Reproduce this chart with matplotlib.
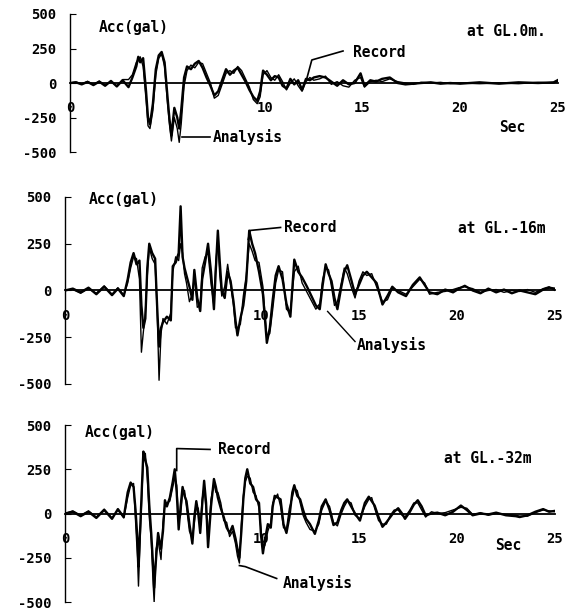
import matplotlib
matplotlib.use("Agg")
import matplotlib.pyplot as plt

plt.rcParams['font.family'] = ['DejaVu Sans Mono']
plt.rcParams['font.weight'] = 'bold'

# ---- GL. 0m ----
t1 = [0, 0.3, 0.6, 0.9, 1.2, 1.5, 1.8, 2.1, 2.4, 2.7,
      3.0, 3.2, 3.4, 3.5, 3.6, 3.75, 3.9, 4.0, 4.1, 4.25,
      4.4, 4.55, 4.7, 4.85, 5.0, 5.1, 5.2, 5.35, 5.5, 5.6,
      5.7, 5.85, 6.0, 6.2, 6.4, 6.6, 6.8, 7.0, 7.2, 7.4,
      7.6, 7.8, 8.0, 8.2, 8.4, 8.6, 8.8, 9.0, 9.2, 9.4,
      9.6, 9.75, 9.9, 10.1, 10.3, 10.5, 10.7, 10.9, 11.1, 11.3,
      11.5, 11.7, 11.9, 12.1, 12.3, 12.5, 12.8, 13.1, 13.4, 13.7,
      14.0, 14.3, 14.6, 14.9, 15.1, 15.4, 15.7, 16.0, 16.4, 16.8,
      17.2, 17.6, 18.0, 18.5, 19.0, 19.5, 20.0, 21.0, 22.0, 23.0,
      24.0, 24.8, 25.0]
rec1 = [0, 5, -10, 8, -15, 10, -20, 15, -25, 20,
        -30, 40, 120, 190, 150, 180, -60, -250, -300, -150,
        100, 200, 225, 150, -100, -260, -380, -180, -250, -330,
        -200, 40, 120, 100, 140, 160, 110, 40, -20, -90,
        -60, 20, 100, 60, 90, 110, 60, 10, -50, -100,
        -130, -60, 90, 60, 20, 50, 40, -20, -40, 30,
        -10, 20, -50, 30, 20, 40, 50, 40, 10, -20,
        20, -10, 0, 70, -20, 20, 10, 30, 40, 0,
        -10, -5, 0, 5, -5, 0, -5, 5, -5, 5,
        0, 5, 20]
ana1 = [0, 8, -6, 12, -10, 14, -16, 10, -20, 25,
        25, 60, 150, 170, 190, 120, -120, -310, -330, -200,
        60, 180, 210, 120, -150, -300, -420, -250, -330, -430,
        -300, -20, 90, 130, 110, 150, 140, 70, 0, -110,
        -90, -10, 70, 90, 70, 120, 90, 30, -30, -120,
        -150, -100, 60, 90, 40, 20, 60, 10, -50, 0,
        30, -20, -60, 10, 40, 20, 30, 50, -10, 10,
        -20, -30, 20, 40, -30, 10, 20, 10, 30, 10,
        0, -10, 5, 0, 5, -5, 0, -5, 0, -5,
        5, 0, 10]

# ---- GL. -16m ----
t2 = [0, 0.4, 0.8, 1.2, 1.6, 2.0, 2.4, 2.7, 3.0, 3.2,
      3.35, 3.5, 3.65, 3.8, 3.9, 4.0, 4.1, 4.2, 4.3, 4.45,
      4.6, 4.7, 4.8, 4.9, 5.0, 5.2, 5.4, 5.5, 5.65, 5.8,
      5.9, 6.0, 6.1, 6.2, 6.35, 6.5, 6.6, 6.75, 6.9, 7.0,
      7.15, 7.3, 7.45, 7.6, 7.7, 7.8, 7.9, 8.0, 8.15, 8.3,
      8.45, 8.6, 8.7, 8.8, 8.95, 9.1, 9.25, 9.4, 9.55, 9.7,
      9.9, 10.1, 10.2, 10.3, 10.45, 10.6, 10.75, 10.9, 11.1, 11.3,
      11.5, 11.7, 11.9, 12.1, 12.35, 12.6, 12.8, 13.0, 13.15, 13.3,
      13.45, 13.6, 13.75, 13.9, 14.1, 14.25, 14.4, 14.6, 14.8, 15.0,
      15.2, 15.4, 15.65, 15.9, 16.2, 16.45, 16.7, 17.0, 17.4, 17.75,
      18.1, 18.35, 18.6, 19.0, 19.4, 19.8, 20.1, 20.4, 20.8, 21.2,
      21.6, 22.0, 22.4, 22.8, 23.2, 23.6, 24.0, 24.4, 24.7, 25.0]
rec2 = [0, 10, -10, 15, -20, 20, -25, 10, -30, 60,
        150, 200, 140, 160, -80, -200, -150, 120, 250, 200,
        170, -80, -300, -200, -170, -140, -160, 130, 150, 200,
        450, 180, 120, 80, 20, -50, 110, -40, -110, 60,
        150, 250, 100, -100, 120, 320, 150, 0, -40, 100,
        50, -60, -160, -240, -150, -80, 50, 320, 250, 200,
        100, -20, -150, -280, -200, -50, 80, 130, 60, -70,
        -140, 165, 100, 70, 20, -35, -80, -100, 30, 140,
        90, 50, -40, -100, 20, 100, 135, 60, -20, 30,
        80, 100, 70, 40, -75, -30, 20, -10, -30, 30,
        70, 30, -10, -20, 5, -10, 10, 25, 0, -15,
        10, -10, 5, -15, 0, -10, -20, 5, 15, 10]
ana2 = [0, 5, -15, 10, -15, 25, -20, 15, -25, 40,
        120, 180, 170, 60, -330, -220, -120, 80, 230, 170,
        140, -100, -480, -230, -150, -180, -120, 100, 180, 160,
        250, 200, 90, 40, -60, -20, 80, -90, -80, 120,
        180, 200, 40, -80, 160, 260, 80, -30, 20, 140,
        30, -80, -200, -200, -180, -30, 80, 250, 210, 160,
        150, 20, -120, -250, -230, -100, 40, 110, 100, -100,
        -120, 100, 130, 40, -10, -60, -100, -70, 60, 120,
        110, 20, -80, -60, 40, 120, 90, 20, -40, 50,
        100, 80, 90, 20, -60, -50, 10, 0, -20, 20,
        60, 40, -20, -10, -5, 5, 15, 20, 10, -10,
        0, 5, -10, 0, -5, 5, -10, 10, 20, 0]

# ---- GL. -32m ----
t3 = [0, 0.4, 0.8, 1.2, 1.6, 2.0, 2.4, 2.7, 3.0, 3.2,
      3.35, 3.5, 3.6, 3.7, 3.75, 3.85, 4.0, 4.1, 4.2, 4.3,
      4.4, 4.5, 4.55, 4.65, 4.75, 4.9, 5.0, 5.1, 5.2, 5.35,
      5.5, 5.6, 5.7, 5.8, 5.9, 6.0, 6.1, 6.2, 6.35, 6.5,
      6.6, 6.7, 6.8, 6.9, 7.0, 7.1, 7.2, 7.3, 7.45, 7.6,
      7.7, 7.8, 7.95, 8.1, 8.25, 8.4, 8.55, 8.7, 8.8, 8.9,
      9.0, 9.1, 9.2, 9.3, 9.45, 9.6, 9.75, 9.9, 10.0, 10.1,
      10.2, 10.35, 10.5, 10.6, 10.7, 10.85, 11.0, 11.15, 11.3, 11.45,
      11.6, 11.7, 11.85, 12.0, 12.15, 12.3, 12.5, 12.75, 12.95, 13.1,
      13.3, 13.5, 13.7, 13.9, 14.1, 14.25, 14.4, 14.6, 14.8, 15.05,
      15.3, 15.5, 15.65, 15.8, 16.0, 16.2, 16.4, 16.6, 16.8, 17.0,
      17.2, 17.35, 17.6, 17.8, 18.0, 18.2, 18.4, 18.7, 19.0, 19.4,
      19.8, 20.2, 20.5, 20.8, 21.2, 21.6, 22.0, 22.5, 23.0, 23.2,
      23.6, 24.0, 24.4, 24.7, 25.0]
rec3 = [0, 10, -15, 10, -25, 20, -30, 25, -20, 120,
        175, 150, 20, -150, -300, -50, 350, 300, 260, 50,
        -110, -300, -420, -250, -110, -200, -100, 75, 40, 90,
        180, 250, 120, -90, 40, 150, 100, 70, -60, -170,
        -20, 70, 0, -110, 50, 185, 60, -190, 40, 195,
        150, 90, 30, -20, -80, -110, -70, -140, -200, -250,
        -100, 80, 200, 250, 170, 150, 80, 60, -120, -225,
        -150, -60, -80, 40, 100, 90, 80, -60, -110, -20,
        120, 160, 100, 80, 20, -30, -60, -115, -40, 40,
        80, 20, -65, -50, 20, 60, 80, 40, 0, -40,
        60, 95, 70, 45, -20, -75, -50, -20, 10, 30,
        0, -30, 10, 50, 75, 40, -10, 0, 5, -10,
        10, 45, 20, -10, 0, -5, 5, -10, -15, -20,
        -10, 10, 25, 10, 15]
ana3 = [0, 15, -10, 15, -20, 25, -25, 20, -25, 90,
        160, 170, -40, -250, -410, -100, 320, 340, 200, -20,
        -150, -400, -500, -200, -150, -260, -50, 50, 60, 70,
        150, 200, 160, -40, -10, 120, 130, 40, -100, -140,
        -50, 40, 30, -80, 80, 150, 20, -160, 80, 170,
        120, 120, 60, -40, -50, -130, -100, -170, -240, -280,
        -60, 100, 180, 210, 200, 120, 100, 30, -90, -200,
        -180, -100, -50, 60, 80, 110, 40, -80, -90, 30,
        90, 140, 130, 60, -10, -50, -90, -100, -60, 20,
        70, 40, -50, -70, 0, 40, 70, 60, -10, -30,
        40, 80, 90, 30, -40, -60, -60, -10, 20, 20,
        -10, -20, 20, 60, 60, 20, -20, 10, 0, 5,
        20, 35, 30, -5, 5, -10, 0, -5, -10, -15,
        -15, 5, 20, 15, 10]

yticks = [-500, -250, 0, 250, 500]
ylabels = ['-500', '-250', '0', '250', '500']
xticks = [0, 10, 15, 20, 25]


def draw_panel(ax, t, rec, ana):
    assert len(t) == len(rec) == len(ana)
    ax.plot(t, ana, color='black', lw=1.0)
    ax.plot(t, rec, color='black', lw=1.7)
    ax.set_xlim(0, 25)
    ax.set_ylim(-500, 500)
    for s in ['top', 'right']:
        ax.spines[s].set_visible(False)
    ax.spines['bottom'].set_position(('data', 0))
    ax.spines['bottom'].set_linewidth(1.3)
    ax.spines['left'].set_linewidth(1.0)
    ax.set_yticks(yticks)
    ax.set_yticklabels(ylabels)
    ax.set_xticks(xticks)
    ax.set_xticklabels([str(x) for x in xticks])
    ax.tick_params(axis='y', direction='in', length=4, pad=10, labelsize=10)
    ax.tick_params(axis='x', length=0, pad=13, labelsize=10)
    ax.patch.set_visible(False)


fig = plt.figure(figsize=(5.71, 6.14), dpi=100)

ax1 = fig.add_axes([0.1226, 0.7524, 0.8538, 0.2248])
draw_panel(ax1, t1, rec1, ana1)
ax1.text(1.5, 400, 'Acc(gal)', fontsize=10.5, va='center')
ax1.text(24.4, 370, 'at GL.0m.', fontsize=10.5, ha='right', va='center')
ax1.text(14.5, 218, 'Record', fontsize=10.5, va='center')
ax1.plot([14.0, 12.4, 12.15], [232, 167, 36], color='black', lw=1.2)
ax1.text(7.3, -390, 'Analysis', fontsize=10.5, va='center')
ax1.plot([7.2, 5.75], [-390, -390], color='black', lw=1.2)
ax1.text(22.7, -320, 'Sec', fontsize=10.5, ha='center', va='center')

ax2 = fig.add_axes([0.1138, 0.3746, 0.8581, 0.3046])
draw_panel(ax2, t2, rec2, ana2)
ax2.text(1.2, 487, 'Acc(gal)', fontsize=10.5, va='center')
ax2.text(24.5, 332, 'at GL.-16m', fontsize=10.5, ha='right', va='center')
ax2.text(11.2, 337, 'Record', fontsize=10.5, va='center')
ax2.plot([11.0, 9.45, 9.35], [337, 321, 273], color='black', lw=1.2)
ax2.text(14.9, -289, 'Analysis', fontsize=10.5, va='center')
ax2.plot([14.8, 13.4], [-273, -112], color='black', lw=1.0)

ax3 = fig.add_axes([0.1138, 0.0195, 0.8581, 0.2883])
draw_panel(ax3, t3, rec3, ana3)
ax3.text(1.0, 458, 'Acc(gal)', fontsize=10.5, va='center')
ax3.text(23.8, 311, 'at GL.-32m', fontsize=10.5, ha='right', va='center')
ax3.text(7.8, 362, 'Record', fontsize=10.5, va='center')
ax3.plot([7.4, 5.7, 5.7], [362, 367, 243], color='black', lw=1.2)
ax3.text(11.1, -395, 'Analysis', fontsize=10.5, va='center')
ax3.plot([10.8, 9.2, 8.9], [-367, -300, -294], color='black', lw=1.2)
ax3.text(22.6, -181, 'Sec', fontsize=10.5, ha='center', va='center')

fig.savefig('out.png', dpi=100)
